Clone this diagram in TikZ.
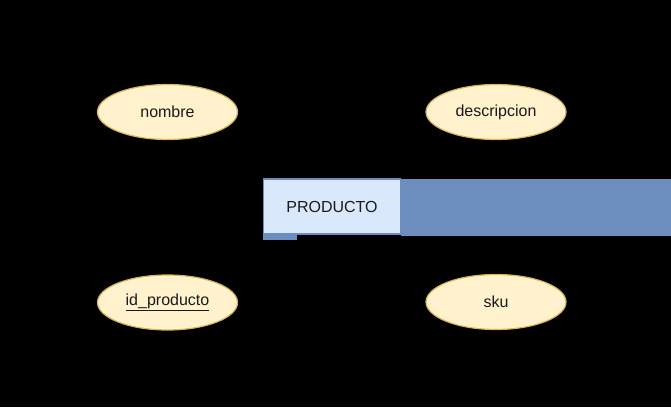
\documentclass[tikz,border=0pt]{standalone}
\usepackage{fontspec}
\setmainfont{Liberation Sans}
\usetikzlibrary{shapes.geometric}
\definecolor{attrfill}{HTML}{FFF2CC}
\definecolor{attrline}{HTML}{D6B656}
\definecolor{entfill}{HTML}{DAE8FC}
\definecolor{entline}{HTML}{6C8EBF}
\definecolor{txt}{HTML}{1A1A1A}
\begin{document}
\begin{tikzpicture}[x=1pt,y=-1pt,
  attr/.style={ellipse,draw=attrline,fill=attrfill,line width=1.2pt,minimum width=140pt,minimum height=55pt,inner sep=0pt,text=txt,font=\fontsize{16}{19}\selectfont},
  entity/.style={rectangle,draw=entline,fill=entfill,line width=1.2pt,minimum width=137pt,minimum height=55pt,inner sep=0pt,text=txt,font=\fontsize{16}{19}\selectfont},
  conn/.style={draw=black,line width=1pt}]
\fill[black] (0,0) rectangle (671,407);
\useasboundingbox (0,0) rectangle (671,407);
\fill[entline] (401,179) rectangle (671,235.5);
\fill[entline] (263,234) rectangle (297,240);
\node[entity] (prod) at (332,206.5) {PRODUCTO};
\node[attr] (nombre) at (167.5,112) {nombre};
\node[attr] (desc) at (496,112) {descripcion};
\node[attr] (idp) at (167.5,302.5) {\underline{id\_producto}};
\node[attr] (sku) at (496,302) {sku};
\draw[conn] (nombre.east) -| ([xshift=35pt]prod.north west);
\draw[conn] (desc.west) -| ([xshift=-35pt]prod.north east);
\draw[conn] (idp.east) -| ([xshift=35pt]prod.south west);
\draw[conn] (sku.west) -| ([xshift=-35pt]prod.south east);
\end{tikzpicture}
\end{document}
